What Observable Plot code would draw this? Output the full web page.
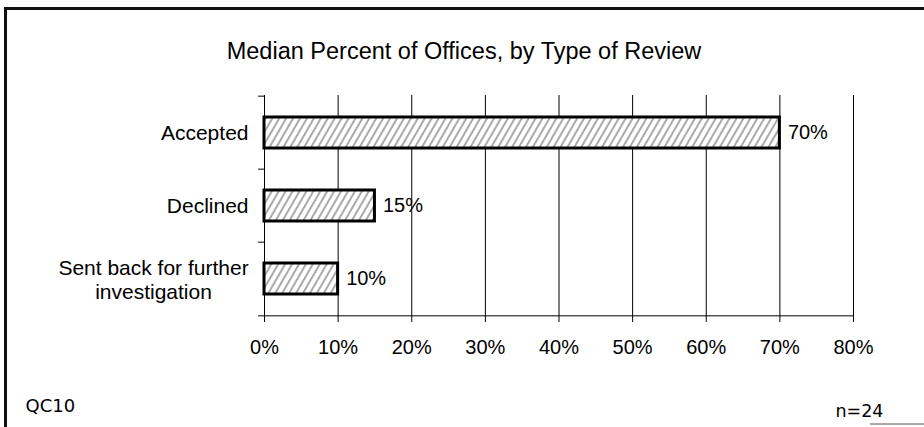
<!DOCTYPE html>
<html><head><meta charset="utf-8">
<script src="https://cdn.jsdelivr.net/npm/d3@7"></script>
<script src="https://cdn.jsdelivr.net/npm/@observablehq/plot@0.6"></script>
<style>
body{margin:0;background:#fff;}
#wrap{position:relative;width:924px;height:427px;overflow:hidden;background:#fff;}
#border{position:absolute;left:4px;top:7px;width:2000px;height:2000px;border-left:3px solid #111;border-top:3px solid #111;}
#bottomline{position:absolute;left:870px;top:423px;width:60px;height:2px;background:#aaa;}
#chart{position:absolute;left:0;top:0;}
</style></head><body>
<div id="wrap"><div id="border"></div><div id="bottomline"></div><div id="chart"></div></div>
<script>
const categories = ["Accepted", "Declined", "Sent back for further\ninvestigation"];
const values = [70, 15, 10];
const valueLabels = ["70%", "15%", "10%"];
const xTicks = [0, 10, 20, 30, 40, 50, 60, 70, 80];
const title = "Median Percent of Offices, by Type of Review";
const leftNote = "QC10";
const rightNote = "n=24";

const data = categories.map((c, i) => ({category: c, value: values[i], label: valueLabels[i]}));
const singleLine = categories.filter(c => !c.includes("\n"));
const multiLine = categories.filter(c => c.includes("\n"));
const lastCat = [categories[categories.length - 1]];

const halfStep = (427 - 95 - 111) / categories.length / 2;

const hatchDefs = () => {
  const defs = d3.create("svg:defs");
  const p = defs.append("pattern")
    .attr("id", "hatch")
    .attr("patternUnits", "userSpaceOnUse")
    .attr("width", 6).attr("height", 6)
    .attr("patternTransform", "rotate(30)");
  p.append("rect").attr("width", 6).attr("height", 6).attr("fill", "#fff");
  p.append("line").attr("x1", 1).attr("y1", 0).attr("x2", 1).attr("y2", 6)
    .attr("stroke", "#555").attr("stroke-width", 1);
  return defs.node();
};

const font = "'Liberation Sans', Arial, sans-serif";
const noteFont = "'DejaVu Sans', sans-serif";

const chart = Plot.plot({
  width: 924,
  height: 427,
  marginLeft: 264,
  marginRight: 71,
  marginTop: 95,
  marginBottom: 111,
  style: {fontFamily: font, background: "transparent", overflow: "visible"},
  x: {domain: [0, 80], label: null},
  y: {domain: categories, paddingInner: 0.57, paddingOuter: 0.285, axis: null, label: null},
  marks: [
    hatchDefs,
    Plot.gridX({ticks: xTicks, stroke: "#000", strokeOpacity: 1, strokeWidth: 1}),
    // category boundary ticks on the left axis
    Plot.ruleY(categories, {y: d => d, x1: -0.8, x2: 0, dy: -halfStep, stroke: "#000", strokeWidth: 1}),
    Plot.ruleY(lastCat, {y: d => d, x1: -0.8, x2: 80, dy: halfStep, stroke: "#000", strokeWidth: 1}),
    Plot.axisX({ticks: xTicks, tickFormat: d => d + "%", tickSize: 6, tickPadding: 17, fontSize: 20, label: null, stroke: "#000", fill: "#000"}),
    Plot.barX(data, {x: "value", y: "category", fill: "url(#hatch)", stroke: "#000", strokeWidth: 3}),
    Plot.text(data, {x: "value", y: "category", text: "label", textAnchor: "start", dx: 8, fontSize: 20, fill: "#000"}),
    Plot.text(singleLine, {y: d => d, text: d => d, frameAnchor: "left", textAnchor: "end", dx: -16, fontSize: 21, fill: "#000"}),
    Plot.text(multiLine, {y: d => d, text: d => d, frameAnchor: "left", textAnchor: "middle", dx: -111, fontSize: 21, lineHeight: 1.19, fill: "#000"}),
    Plot.text([title], {frameAnchor: "top", dx: -95, dy: -53, fontSize: 23.5, fill: "#000"}),
    Plot.text([leftNote], {frameAnchor: "bottom-left", textAnchor: "start", dx: -239, dy: 95, fontSize: 18, fontFamily: noteFont, fill: "#000"}),
    Plot.text([rightNote], {frameAnchor: "bottom-right", textAnchor: "end", dx: 30, dy: 100, fontSize: 17.5, fontFamily: noteFont, fill: "#000"})
  ]
});
document.getElementById("chart").appendChild(chart);
</script>
</body></html>
